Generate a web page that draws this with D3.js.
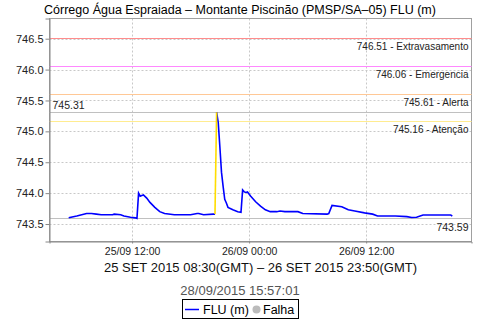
<!DOCTYPE html>
<html><head><meta charset="utf-8">
<script src="https://cdn.jsdelivr.net/npm/d3@7"></script>
<style>body{margin:0;background:#fff}svg{display:block}</style>
</head><body><svg id="c" width="480" height="320"></svg>
<script>
const times = ["2015-09-25 05:30","2015-09-25 06:20","2015-09-25 07:20","2015-09-25 07:50","2015-09-25 08:20","2015-09-25 08:50","2015-09-25 10:00","2015-09-25 10:10","2015-09-25 10:50","2015-09-25 11:10","2015-09-25 11:50","2015-09-25 12:20","2015-09-25 12:30","2015-09-25 12:40","2015-09-25 12:50","2015-09-25 13:00","2015-09-25 13:10","2015-09-25 13:30","2015-09-25 13:50","2015-09-25 14:20","2015-09-25 14:50","2015-09-25 15:20","2015-09-25 16:20","2015-09-25 18:00","2015-09-25 18:40","2015-09-25 18:50","2015-09-25 19:20","2015-09-25 20:20","2015-09-25 20:30","2015-09-25 20:40","2015-09-25 20:50","2015-09-25 21:00","2015-09-25 21:10","2015-09-25 21:20","2015-09-25 21:30","2015-09-25 21:40","2015-09-25 21:50","2015-09-25 22:20","2015-09-25 22:50","2015-09-25 23:10","2015-09-25 23:20","2015-09-25 23:30","2015-09-25 23:40","2015-09-25 23:50","2015-09-26 00:10","2015-09-26 00:40","2015-09-26 01:10","2015-09-26 01:40","2015-09-26 02:10","2015-09-26 02:50","2015-09-26 03:10","2015-09-26 03:40","2015-09-26 05:00","2015-09-26 05:30","2015-09-26 08:00","2015-09-26 08:10","2015-09-26 08:30","2015-09-26 09:30","2015-09-26 10:10","2015-09-26 10:50","2015-09-26 11:50","2015-09-26 12:40","2015-09-26 13:10","2015-09-26 15:00","2015-09-26 16:10","2015-09-26 16:40","2015-09-26 17:10","2015-09-26 17:50","2015-09-26 20:40","2015-09-26 20:50"];
const flu = [743.60,743.63,743.67,743.67,743.66,743.65,743.65,743.66,743.65,743.63,743.61,743.60,743.59,744.00,743.95,743.96,743.97,743.92,743.85,743.77,743.70,743.67,743.65,743.65,743.67,743.67,743.65,743.66,743.66,745.31,745.14,744.75,744.34,744.11,743.90,743.84,743.77,743.73,743.70,743.69,744.05,744.02,744.01,744.02,743.95,743.86,743.79,743.73,743.70,743.70,743.71,743.70,743.70,743.67,743.66,743.67,743.80,743.78,743.73,743.71,743.68,743.66,743.63,743.63,743.62,743.605,743.61,743.645,743.645,743.63];
const falhaSegment = ["2015-09-25 20:30","2015-09-25 20:40"];
const yTicks = [743.5,744.0,744.5,745.0,745.5,746.0,746.5];
const markerValues = [746.51,746.06,745.61,745.16];
const markerNames = ["Extravasamento","Emergencia","Alerta","Atenção"];
const markerColors = ["#ff8c8c","#ff88ff","#ffc896","#ffec90"];
const maxValue = 745.31, minValue = 743.59;
const title = "Córrego Água Espraiada – Montante Piscinão (PMSP/SA–05) FLU (m)";
const axisLabel = "25 SET 2015 08:30(GMT) – 26 SET 2015 23:50(GMT)";
const stamp = "28/09/2015 15:57:01";
const legendItems = ["FLU (m)","Falha"];

const parse = d3.timeParse("%Y-%m-%d %H:%M");
const data = times.map((t,i)=>({t:parse(t),v:flu[i]}));
const svg = d3.select("#c");
const L=49.5,R=471.5,T=18.5,B=241.5;
const ext = d3.extent(data,d=>d.t);
const span = ext[1]-ext[0];
const x = d3.scaleTime().domain([new Date(+ext[0]-span*0.05), new Date(+ext[1]+span*0.05)]).range([L,R]);
const y = d3.scaleLinear().domain([743.217,746.827]).range([B,T]);
const font = "'Liberation Sans', Arial, sans-serif";

// title
svg.append("text").attr("x",240).attr("y",14).attr("text-anchor","middle")
  .attr("font-family",font).attr("font-size",12.5).attr("fill","#000").text(title);

// grid
const xt = x.ticks(d3.timeHour.every(12));
svg.append("g").selectAll("line").data(xt).join("line")
  .attr("x1",d=>Math.round(x(d))+0.5).attr("x2",d=>Math.round(x(d))+0.5).attr("y1",T).attr("y2",B)
  .attr("stroke","#c8c8c8").attr("stroke-dasharray","2,2");
svg.append("g").selectAll("line").data(yTicks).join("line")
  .attr("y1",d=>Math.round(y(d))+0.5).attr("y2",d=>Math.round(y(d))+0.5).attr("x1",L).attr("x2",R)
  .attr("stroke","#c8c8c8").attr("stroke-dasharray","2,2");

// outline
svg.append("rect").attr("x",L).attr("y",T).attr("width",R-L).attr("height",B-T)
  .attr("fill","none").attr("stroke","#a0a0a0");

// markers
markerValues.forEach((v,i)=>{
  const yy = Math.round(y(v))+0.5;
  svg.append("line").attr("x1",L).attr("x2",R).attr("y1",yy).attr("y2",yy).attr("stroke",markerColors[i]);
  svg.append("text").attr("x",468.5).attr("y",yy+11.5).attr("text-anchor","end")
    .attr("font-family",font).attr("font-size",10).attr("fill","#222")
    .text(v.toFixed(2)+" - "+markerNames[i]);
});
// max/min lines
[maxValue,minValue].forEach((v,i)=>{
  const yy = Math.round(y(v))+0.5;
  svg.append("line").attr("x1",L).attr("x2",R).attr("y1",yy).attr("y2",yy).attr("stroke","#c0c0c0");
  if(i===0) svg.append("text").attr("x",52.5).attr("y",yy-4).attr("font-family",font).attr("font-size",10.5).attr("fill","#222").text(v.toFixed(2));
  else svg.append("text").attr("x",468.5).attr("y",yy+12).attr("text-anchor","end").attr("font-family",font).attr("font-size",10.5).attr("fill","#222").text(v.toFixed(2));
});

// line
const f0 = parse(falhaSegment[0]), f1 = parse(falhaSegment[1]);
const line = d3.line().x(d=>x(d.t)).y(d=>y(d.v));
const i0 = data.findIndex(d=>+d.t===+f0), i1 = data.findIndex(d=>+d.t===+f1);
svg.append("path").datum(data.slice(0,i0+1)).attr("d",line).attr("fill","none").attr("stroke","#0000ff").attr("stroke-width",1.6);
svg.append("path").datum(data.slice(i1)).attr("d",line).attr("fill","none").attr("stroke","#0000ff").attr("stroke-width",1.6);
svg.append("path").datum(data.slice(i0,i1+1)).attr("d",line).attr("fill","none").attr("stroke","#ffdd00").attr("stroke-width",1.6);

// axes
const ya = d3.axisLeft(y).tickValues(yTicks).tickFormat(d3.format(".1f")).tickSize(4).tickPadding(2);
const gy = svg.append("g").attr("transform",`translate(${L},0)`).call(ya);
gy.select(".domain").attr("stroke","#888");
gy.selectAll(".tick line").attr("stroke","#888");
gy.selectAll("text").attr("font-family",font).attr("font-size",11).attr("fill","#222");
const xa = d3.axisBottom(x).tickValues(xt).tickFormat(d3.timeFormat("%d/%m %H:%M")).tickSize(2).tickPadding(4);
const gx = svg.append("g").attr("transform",`translate(0,${B})`).call(xa);
gx.select(".domain").attr("stroke","#888");
gx.selectAll(".tick line").attr("stroke","#888");
gx.selectAll("text").attr("font-family",font).attr("font-size",10.5).attr("fill","#222");

// axis label
svg.append("text").attr("x",(L+R)/2).attr("y",271.5).attr("text-anchor","middle")
  .attr("font-family",font).attr("font-size",13).attr("fill","#111").text(axisLabel);
svg.append("text").attr("x",240).attr("y",295).attr("text-anchor","middle")
  .attr("font-family",font).attr("font-size",13).attr("fill","#555").text(stamp);

// legend
const lg = svg.append("g");
lg.append("rect").attr("x",182.5).attr("y",299.5).attr("width",116).attr("height",19).attr("fill","#fff").attr("stroke","#000");
lg.append("line").attr("x1",185).attr("x2",199).attr("y1",309.5).attr("y2",309.5).attr("stroke","#0000ff").attr("stroke-width",1.5);
lg.append("text").attr("x",203).attr("y",314).attr("font-family",font).attr("font-size",12.5).attr("fill","#000").text(legendItems[0]);
lg.append("circle").attr("cx",256.5).attr("cy",309.5).attr("r",4).attr("fill","#bbbbbb");
lg.append("text").attr("x",263).attr("y",314).attr("font-family",font).attr("font-size",12.5).attr("fill","#000").text(legendItems[1]);
</script></body></html>
